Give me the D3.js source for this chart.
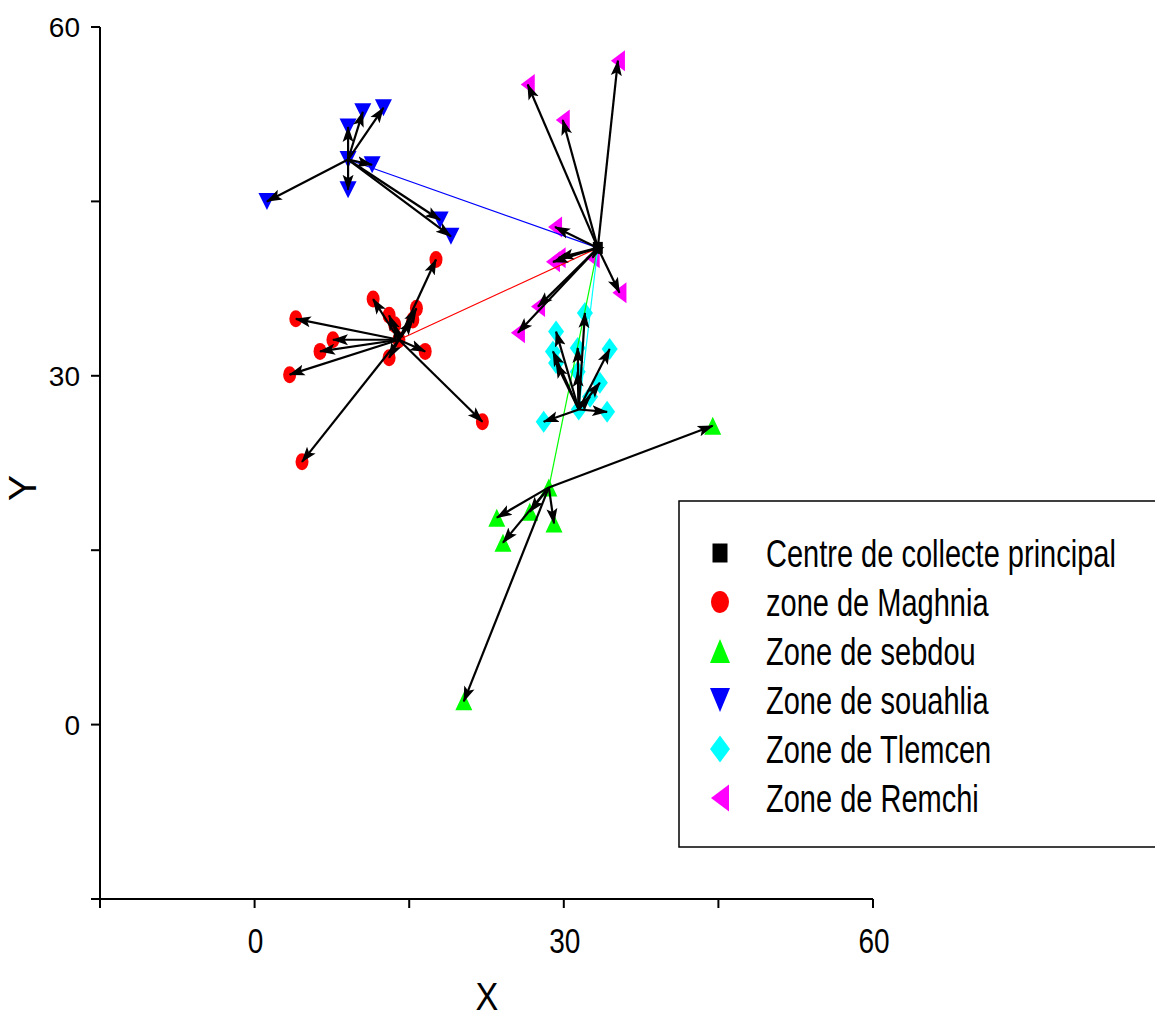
<!DOCTYPE html>
<html>
<head>
<meta charset="utf-8">
<script src="https://cdn.jsdelivr.net/npm/d3@7"></script>
<style>
  body { margin: 0; background: #fff; }
  svg { display: block; }
  text { font-family: "Liberation Sans Narrow", "Liberation Sans", Arial, sans-serif; fill: #000; }
</style>
</head>
<body>
<div id="chart"></div>
<script>
//main collection centre
var principal = [33.3, 41.0];

//zone hubs (each zone's own centre)
var maghniaHub = [14.0, 33.1];
var sebdouHub = [28.55, 20.4];
var souahliaHub = [9.07, 48.6];
var tlemcenHub = [31.45, 27.1];

//zone points
var maghniaX = [17.6, 11.5, 4.0, 7.6, 6.35, 3.4, 13.05, 16.55, 22.1, 4.6, 13.05, 13.6, 15.7, 15.35];
var maghniaY = [40.0, 36.6, 34.9, 33.1, 32.1, 30.1, 31.55, 32.1, 26.05, 22.6, 35.2, 34.4, 35.8, 34.8];

var sebdouX = [44.45, 23.5, 26.7, 29.05, 24.1, 20.3];
var sebdouY = [25.7, 17.8, 18.3, 17.3, 15.65, 2.0];

var souahliaX = [9.07, 10.5, 12.5, 11.4, 9.07, 1.2, 18.0, 19.05];
var souahliaY = [51.4, 52.7, 53.05, 48.15, 46.0, 45.0, 43.4, 42.0];

var tlemcenX = [32.05, 29.25, 28.95, 29.25, 31.35, 34.45, 31.35, 33.5, 32.55, 34.2, 28.05];
var tlemcenY = [35.4, 33.8, 32.1, 31.1, 32.4, 32.3, 30.35, 29.4, 28.2, 26.9, 26.05];

var remchiX = [35.25, 26.5, 29.9, 29.15, 28.95, 29.5, 32.8, 35.4, 27.5, 25.55];
var remchiY = [57.1, 55.05, 52.0, 42.8, 39.8, 40.15, 40.15, 37.15, 35.95, 33.7];

var legendLabels = ['Centre de collecte principal', 'zone de Maghnia', 'Zone de sebdou',
                    'Zone de souahlia', 'Zone de Tlemcen', 'Zone de Remchi'];
var legendShapes = ['square', 'circle', 'up', 'down', 'diamond', 'left'];
var colors = ['#000000', '#FF0000', '#00FF00', '#0000FF', '#00FFFF', '#FF00FF'];

var xTicks = [-15, 0, 15, 30, 45, 60];
var yTicks = [-15, 0, 15, 30, 45, 60];
var xTickLabels = ['', '0', '', '30', '', '60'];
var yTickLabels = ['', '0', '', '30', '', '60'];

var width = 1155, height = 1019;

var x = d3.scaleLinear().domain([-15, 60]).range([100, 873]);
var y = d3.scaleLinear().domain([-15, 60]).range([899, 27]);

var svg = d3.select('#chart').append('svg')
    .attr('width', width)
    .attr('height', height);

//arrow head
svg.append('defs').append('marker')
    .attr('id', 'head')
    .attr('markerUnits', 'userSpaceOnUse')
    .attr('viewBox', '0 -7 16 14')
    .attr('refX', 15)
    .attr('refY', 0)
    .attr('markerWidth', 16)
    .attr('markerHeight', 14)
    .attr('orient', 'auto')
  .append('path')
    .attr('d', 'M0,-5.5L16,0L0,5.5L3.5,0Z')
    .attr('fill', '#000');

//marker shapes centred on 0,0
function shapePath(type, w, h) {
  var a = w / 2, b = h / 2;
  if (type == 'square') return 'M' + (-a) + ',' + (-b) + 'H' + a + 'V' + b + 'H' + (-a) + 'Z';
  if (type == 'up') return 'M0,' + (-b) + 'L' + a + ',' + b + 'L' + (-a) + ',' + b + 'Z';
  if (type == 'down') return 'M0,' + b + 'L' + a + ',' + (-b) + 'L' + (-a) + ',' + (-b) + 'Z';
  if (type == 'diamond') return 'M0,' + (-b) + 'L' + a + ',0L0,' + b + 'L' + (-a) + ',0Z';
  if (type == 'left') return 'M' + (-a) + ',0L' + a + ',' + (-b) + 'L' + a + ',' + b + 'Z';
  return null;
}

function zip(xs, ys) {
  var pts = [];
  for (var i = 0; i < xs.length; i++) pts.push([xs[i], ys[i]]);
  return pts;
}

var zones = [
  {hub: maghniaHub, pts: zip(maghniaX, maghniaY), shape: 'circle', color: colors[1], w: 13, h: 17},
  {hub: sebdouHub, pts: zip(sebdouX, sebdouY), shape: 'up', color: colors[2], w: 17, h: 18},
  {hub: souahliaHub, pts: zip(souahliaX, souahliaY), shape: 'down', color: colors[3], w: 17, h: 17},
  {hub: tlemcenHub, pts: zip(tlemcenX, tlemcenY), shape: 'diamond', color: colors[4], w: 16, h: 22},
  {hub: principal, pts: zip(remchiX, remchiY), shape: 'left', color: colors[5], w: 14, h: 21}
];

//axes
var axisG = svg.append('g');
axisG.append('line')
    .attr('x1', x(-15)).attr('x2', x(-15))
    .attr('y1', y(60)).attr('y2', y(-15))
    .attr('stroke', '#000').attr('stroke-width', 2);
axisG.append('line')
    .attr('x1', x(-15) - 9).attr('x2', x(60))
    .attr('y1', y(-15)).attr('y2', y(-15))
    .attr('stroke', '#000').attr('stroke-width', 2);

yTicks.forEach(function (t, i) {
  axisG.append('line')
      .attr('x1', x(-15) - 9).attr('x2', x(-15))
      .attr('y1', y(t)).attr('y2', y(t))
      .attr('stroke', '#000').attr('stroke-width', 2);
  axisG.append('text')
      .attr('x', 80).attr('y', y(t) + 10)
      .attr('text-anchor', 'end')
      .style('font-size', '28px')
      .text(yTickLabels[i]);
});

xTicks.forEach(function (t, i) {
  axisG.append('line')
      .attr('x1', x(t)).attr('x2', x(t))
      .attr('y1', y(-15)).attr('y2', y(-15) + 9)
      .attr('stroke', '#000').attr('stroke-width', 2);
  axisG.append('text')
      .attr('transform', 'translate(' + (x(t) + 1) + ',953) scale(0.8,1)')
      .attr('text-anchor', 'middle')
      .style('font-size', '35px')
      .text(xTickLabels[i]);
});

axisG.append('text')
    .attr('transform', 'translate(487,1010) scale(0.9,1)')
    .attr('text-anchor', 'middle')
    .style('font-size', '38px')
    .text('X');

axisG.append('text')
    .attr('transform', 'translate(36,488) rotate(-90)')
    .attr('text-anchor', 'middle')
    .style('font-size', '39px')
    .text('Y');

//points
var plot = svg.append('g');
zones.forEach(function (z) {
  var sel = plot.selectAll(null).data(z.pts.concat(z.hub === principal ? [] : [z.hub]));
  if (z.shape == 'circle') {
    sel.enter().append('ellipse')
        .attr('cx', function (d) { return x(d[0]); })
        .attr('cy', function (d) { return y(d[1]); })
        .attr('rx', z.w / 2).attr('ry', z.h / 2)
        .attr('fill', z.color);
  } else {
    sel.enter().append('path')
        .attr('transform', function (d) { return 'translate(' + x(d[0]) + ',' + y(d[1]) + ')'; })
        .attr('d', shapePath(z.shape, z.w, z.h))
        .attr('fill', z.color);
  }
});

//principal centre
plot.append('path')
    .attr('transform', 'translate(' + x(principal[0]) + ',' + y(principal[1]) + ')')
    .attr('d', shapePath('square', 10, 12))
    .attr('fill', '#000');

//hub to principal links
zones.forEach(function (z) {
  if (z.hub === principal) return;
  plot.append('line')
      .attr('x1', x(z.hub[0])).attr('y1', y(z.hub[1]))
      .attr('x2', x(principal[0])).attr('y2', y(principal[1]))
      .attr('stroke', z.color).attr('stroke-width', 1.2);
});

//arrows hub -> zone points
zones.forEach(function (z) {
  plot.selectAll(null).data(z.pts).enter().append('line')
      .attr('x1', x(z.hub[0])).attr('y1', y(z.hub[1]))
      .attr('x2', function (d) { return x(d[0]); })
      .attr('y2', function (d) { return y(d[1]); })
      .attr('stroke', '#000').attr('stroke-width', 2.2)
      .attr('marker-end', 'url(#head)');
});

//legend
var leg = svg.append('g');
leg.append('rect')
    .attr('x', 679).attr('y', 501)
    .attr('width', 500).attr('height', 346)
    .attr('fill', 'none').attr('stroke', '#000').attr('stroke-width', 1.5);

var legSizes = [[15, 19], [18, 22], [20, 24], [20, 24], [20, 27], [18, 27]];
legendLabels.forEach(function (label, i) {
  var cy = 553 + i * 49;
  if (legendShapes[i] == 'circle') {
    leg.append('ellipse')
        .attr('cx', 720).attr('cy', cy)
        .attr('rx', legSizes[i][0] / 2).attr('ry', legSizes[i][1] / 2)
        .attr('fill', colors[i]);
  } else {
    leg.append('path')
        .attr('transform', 'translate(720,' + cy + ')')
        .attr('d', shapePath(legendShapes[i], legSizes[i][0], legSizes[i][1]))
        .attr('fill', colors[i]);
  }
  leg.append('text')
      .attr('class', 'legtext')
      .attr('x', 0).attr('y', 0)
      .attr('transform', 'translate(766,' + (cy + 14) + ')')
      .style('font-size', '39px')
      .text(label);
});

//squeeze legend text so the first row spans like the original (~350px)
var first = leg.select('.legtext').node().getComputedTextLength();
var sx = 350 / first;
leg.selectAll('.legtext').each(function () {
  var t = d3.select(this);
  t.attr('transform', t.attr('transform') + ' scale(' + sx + ',1)');
});
</script>
</body>
</html>
